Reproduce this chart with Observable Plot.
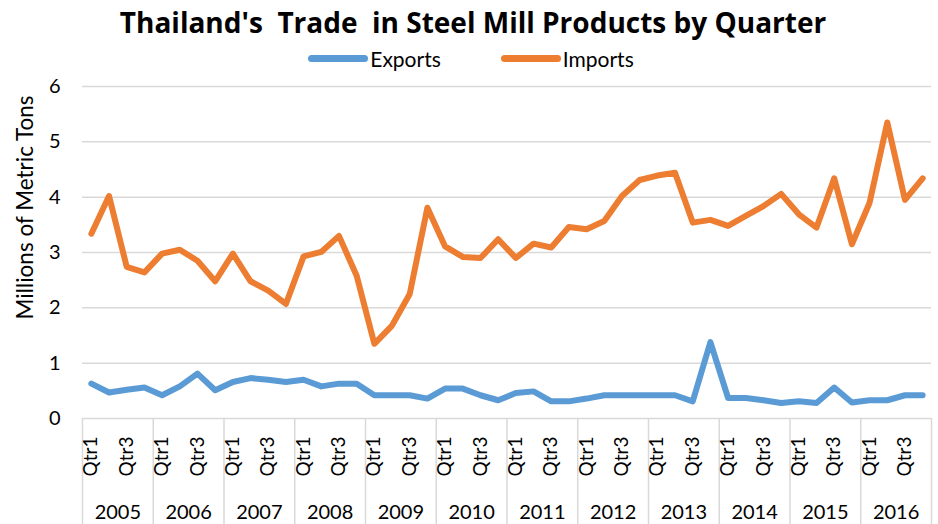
<!DOCTYPE html>
<html>
<head>
<meta charset="utf-8">
<script src="https://cdn.jsdelivr.net/npm/d3@7"></script>
<script src="https://cdn.jsdelivr.net/npm/@observablehq/plot@0.6"></script>
<style>
  html, body { margin: 0; padding: 0; background: #fff; }
  body { width: 938px; height: 524px; overflow: hidden; font-family: Lato, "Open Sans", sans-serif; }
  #title { height: 44px; line-height: 44px; text-align: center; font-family: "Open Sans", Lato, sans-serif; font-weight: 700; font-size: 28px; color: #000; padding-left: 8px; letter-spacing: 0px; }
  #legend { height: 28px; display: flex; justify-content: center; align-items: center; font-size: 21px; color: #000; padding-left: 4px; }
  .item { display: flex; align-items: center; }
  .sw { width: 60px; height: 7px; border-radius: 4px; margin-right: 2px; }
  .gap { width: 60px; }
</style>
</head>
<body>
<div id="title">Thailand's&nbsp; Trade&nbsp; in Steel Mill Products by Quarter</div>
<div id="legend"></div>
<div id="chart"></div>
<script>
const years = ["2005","2006","2007","2008","2009","2010","2011","2012","2013","2014","2015","2016"];
const quarters = ["Qtr1","Qtr2","Qtr3","Qtr4"];
const seriesNames = ["Exports","Imports"];
const seriesColors = ["#5b9bd5","#ed7d31"];
const yTicks = [0,1,2,3,4,5,6];

const exportsData = [
  0.63,0.47,0.52,0.56,
  0.42,0.58,0.81,0.51,
  0.66,0.73,0.70,0.66,
  0.70,0.58,0.63,0.63,
  0.42,0.42,0.42,0.36,
  0.54,0.54,0.42,0.33,
  0.46,0.49,0.31,0.31,
  0.36,0.42,0.42,0.42,
  0.42,0.42,0.31,1.38,
  0.37,0.37,0.33,0.28,
  0.31,0.28,0.56,0.29,
  0.33,0.33,0.42,0.42
];
const importsData = [
  3.34,4.02,2.74,2.64,
  2.98,3.05,2.85,2.48,
  2.98,2.48,2.31,2.07,
  2.93,3.01,3.30,2.58,
  1.35,1.68,2.25,3.81,
  3.11,2.92,2.90,3.24,
  2.90,3.16,3.09,3.46,
  3.42,3.57,4.02,4.31,
  4.39,4.44,3.54,3.59,
  3.48,3.66,3.84,4.06,
  3.69,3.45,4.34,3.15,
  3.90,5.35,3.95,4.34
];

// legend
const legend = document.getElementById("legend");
seriesNames.forEach((n, i) => {
  if (i > 0) { const g = document.createElement("div"); g.className = "gap"; legend.appendChild(g); }
  const it = document.createElement("div"); it.className = "item";
  it.innerHTML = `<div class="sw" style="background:${seriesColors[i]}"></div><span>${n}</span>`;
  legend.appendChild(it);
});

const rows = [];
years.forEach((yr, yi) => quarters.forEach((q, qi) => {
  const idx = yi * 4 + qi;
  rows.push({pos: idx + 0.5, year: yr, quarter: q, Exports: exportsData[idx], Imports: importsData[idx]});
}));
const long = rows.flatMap(r => seriesNames.map(s => ({pos: r.pos, series: s, value: r[s]})));
const qLabels = rows.filter(r => r.quarter === "Qtr1" || r.quarter === "Qtr3");
const yearRows = years.map((yr, i) => ({year: yr, pos: i * 4 + 2}));
const bounds = d3.range(0, years.length * 4 + 1, 4);

const chart = Plot.plot({
  width: 938,
  height: 452,
  marginLeft: 82,
  marginRight: 7,
  marginTop: 14,
  marginBottom: 106,
  style: {fontFamily: "Lato, 'Open Sans', sans-serif", color: "#000", background: "#fff"},
  x: {domain: [0, years.length * 4], axis: null},
  y: {domain: [0, 6], axis: null},
  color: {domain: seriesNames, range: seriesColors},
  marks: [
    Plot.ruleY(yTicks, {stroke: "#d9d9d9", strokeWidth: 1.5}),
    Plot.axisY(yTicks, {tickSize: 0, tickPadding: 22, fontSize: 20, label: null, tickFormat: d => String(d)}),
    Plot.text(["Millions of Metric Tons"], {frameAnchor: "left", rotate: -90, dx: -57, dy: -45, fontSize: 22.5, textAnchor: "middle", lineAnchor: "middle"}),
    Plot.axisX(bounds, {tickSize: 108, tickFormat: () => "", label: null, stroke: "#d9d9d9", strokeWidth: 1.5, strokeOpacity: 1}),
    Plot.text(qLabels, {x: "pos", text: "quarter", frameAnchor: "bottom", rotate: -90, textAnchor: "end", lineAnchor: "middle", dy: 18, fontSize: 19}),
    Plot.text(yearRows, {x: "pos", text: "year", frameAnchor: "bottom", dy: 94, fontSize: 20, lineAnchor: "middle"}),
    Plot.lineY(long, {x: "pos", y: "value", z: "series", stroke: "series", strokeWidth: 6, strokeLinejoin: "round", strokeLinecap: "round"})
  ]
});
document.getElementById("chart").appendChild(chart);
</script>
</body>
</html>
